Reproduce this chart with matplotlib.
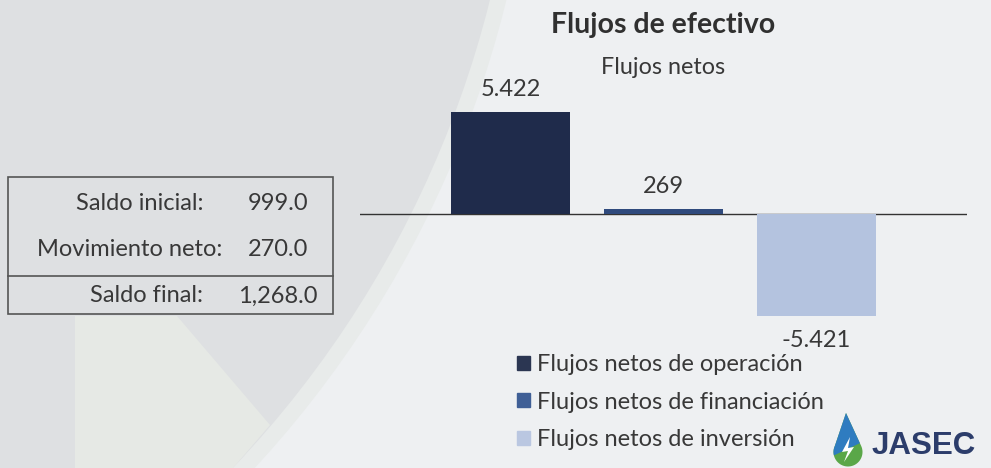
import numpy as np
import matplotlib
matplotlib.use("Agg")
from matplotlib import pyplot as plt
from matplotlib.patches import Rectangle, Polygon, Circle

# data
categories = ["Flujos netos de operación", "Flujos netos de financiación", "Flujos netos de inversión"]
values = [5422, 269, -5421]
bar_colors = ["#1f2b4b", "#2f4a7d", "#b4c3df"]
legend_colors = ["#2b3652", "#3f5f96", "#bac7e1"]

table_labels = ["Saldo inicial:", "Movimiento neto:", "Saldo final:"]
table_values = ["999.0", "270.0", "1,268.0"]

title = "Flujos de efectivo"
subtitle = "Flujos netos"

plt.rcParams['font.family'] = ['Lato', 'DejaVu Sans']
txt = "#383838"

fig = plt.figure(figsize=(9.91, 4.68), dpi=100)
fig.patch.set_facecolor("#eef0f2")

# background / overlay axes in pixel coords
bg = fig.add_axes([0, 0, 1, 1], zorder=-1)
bg.set_xlim(0, 991)
bg.set_ylim(468, 0)
bg.axis("off")
bg.add_patch(Circle((-525, -253), 1062, color="#e8ebea", lw=0))
bg.add_patch(Circle((-525, -253), 1046, color="#dee0e2", lw=0))
bg.add_patch(Polygon([(75, 316), (177, 316), (270, 425), (233, 468), (75, 468)],
                     closed=True, color="#e6e9e5", lw=0))

# table box
bg.add_patch(Rectangle((8, 177), 325, 137, fill=False, ec="#555555", lw=1.2))
bg.plot([8, 333], [276, 276], color="#555555", lw=1.2)
row_y = [203, 249, 296]
label_x = [140, 130, 146]
for lab, val, y, x in zip(table_labels, table_values, row_y, label_x):
    bg.text(x, y, lab, ha="center", va="center", fontsize=17, color=txt)
    bg.text(278, y, val, ha="center", va="center", fontsize=17, color=txt)

# logo
th = np.radians(np.linspace(-25, 205, 40))
drop = [(848 + 14.5 * np.cos(t), 452 + 14.5 * np.sin(t)) for t in th] + [(846, 413)]
green = Polygon(drop, closed=True, color="#5aa748", lw=0)
bg.add_patch(green)
blue = Polygon([(820, 400), (875, 400), (875, 436), (820, 462)], closed=True, color="#2f7cc0", lw=0)
bg.add_patch(blue)
blue.set_clip_path(green)
bg.add_patch(Polygon([(850, 437), (842, 452), (848, 451), (844, 462), (854, 447), (848, 448)],
                     closed=True, color="white", lw=0))
bg.text(872, 446, "JASEC", ha="left", va="center", fontsize=22.5, fontweight="bold",
        color="#2c3d6b", family="Liberation Sans")

# chart
ax = fig.add_axes([360 / 991, 138 / 468, 607 / 991, 230 / 468])
ax.patch.set_alpha(0)
x = np.arange(len(values))
ax.bar(x, values, width=0.78, color=bar_colors, zorder=2)
ax.axhline(0, color="#333333", lw=1, zorder=1)
ax.set_xlim(-0.985, 2.985)
ax.set_ylim(-6170, 6060)
ax.axis("off")

for xi, v in zip(x, values):
    s = f"{v:,}".replace(",", ".")
    off = 16 if v >= 0 else -18
    ax.annotate(s, (xi, v), xytext=(0, off), textcoords="offset points",
                ha="center", va="center", fontsize=17, color=txt)

fig.text(663 / 991, 1 - 25 / 468, title, ha="center", va="center", fontsize=20.5,
         fontweight="bold", color="#303030")
fig.text(663 / 991, 1 - 68 / 468, subtitle, ha="center", va="center", fontsize=16.8, color=txt)

handles = [Rectangle((0, 0), 1, 1, color=c) for c in legend_colors]
fig.legend(handles, categories, loc="upper left", bbox_to_anchor=(517 / 991, 1 - 354 / 468),
           frameon=False, fontsize=17, handlelength=0.55, handleheight=0.55,
           handletextpad=0.3, labelspacing=0.7, borderaxespad=0, borderpad=0,
           labelcolor=txt)

plt.savefig("out.png", dpi=100, facecolor=fig.get_facecolor())
